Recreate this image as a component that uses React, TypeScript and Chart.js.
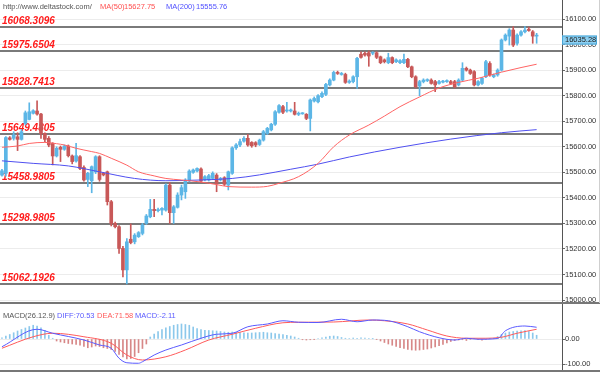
import React, { useEffect, useRef } from 'react';
import { Chart, registerables } from 'chart.js';
Chart.register(...registerables);

// ---------- data ----------
const openP = [
  15489, 15496, 15635, 15633, 15639, 15629, 15691, 15707, 15731, 15740,
  15728, 15652, 15633, 15613, 15564, 15598, 15590, 15603, 15564, 15544,
  15561, 15519, 15472, 15467, 15502, 15561, 15496, 15502, 15385, 15300,
  15287, 15202, 15118, 15238, 15228, 15248, 15261, 15300, 15326, 15355,
  15350, 15352, 15352, 15450, 15342, 15363, 15411, 15424, 15466, 15500,
  15505, 15513, 15470, 15470, 15476, 15489, 15470, 15479, 15450, 15496,
  15596, 15607, 15622, 15633, 15617, 15616, 15609, 15626, 15652, 15666,
  15688, 15735, 15757, 15740, 15740, 15740, 15727, 15729, 15727, 15711,
  15779, 15776, 15796, 15805, 15842, 15861, 15891, 15883, 15883, 15852,
  15855, 15874, 15962, 15966, 15968, 15966, 15968, 15952, 15940, 15929,
  15949, 15933, 15929, 15929, 15942, 15913, 15874, 15838, 15855, 15859,
  15861, 15855, 15848, 15853, 15855, 15855, 15855, 15842, 15861, 15907,
  15900, 15894, 15842, 15848, 15874, 15926, 15874, 15881, 15900, 16018,
  16033, 16057, 16005, 16037, 16050, 16060, 16050, 16033,
];
const closeP = [
  15506, 15636, 15629, 15646, 15629, 15659, 15733, 15737, 15741, 15728,
  15652, 15629, 15607, 15564, 15594, 15590, 15603, 15565, 15542, 15565,
  15515, 15470, 15496, 15522, 15561, 15472, 15490, 15385, 15300, 15287,
  15202, 15118, 15228, 15225, 15254, 15264, 15294, 15329, 15355, 15350,
  15354, 15359, 15450, 15342, 15365, 15411, 15440, 15470, 15505, 15509,
  15515, 15466, 15483, 15487, 15496, 15457, 15476, 15453, 15502, 15596,
  15607, 15620, 15633, 15607, 15604, 15607, 15626, 15659, 15672, 15688,
  15737, 15761, 15735, 15744, 15744, 15727, 15731, 15731, 15711, 15783,
  15789, 15800, 15809, 15844, 15861, 15891, 15887, 15887, 15852, 15857,
  15874, 15946, 15950, 15959, 15955, 15968, 15950, 15929, 15933, 15949,
  15929, 15940, 15937, 15942, 15913, 15874, 15835, 15855, 15861, 15862,
  15848, 15842, 15855, 15857, 15858, 15848, 15835, 15861, 15907, 15900,
  15887, 15842, 15855, 15868, 15933, 15881, 15881, 15900, 16018, 16037,
  16057, 15998, 16037, 16050, 16057, 16055, 16033, 16035.28,
];
const highP = [
  15512, 15640, 15640, 15659, 15655, 15668, 15740, 15772, 15745, 15780,
  15731, 15655, 15640, 15616, 15600, 15603, 15607, 15607, 15568, 15613,
  15565, 15525, 15500, 15525, 15565, 15565, 15500, 15505, 15390, 15305,
  15292, 15210, 15241, 15298, 15260, 15268, 15300, 15335, 15394, 15394,
  15360, 15362, 15455, 15460, 15370, 15420, 15450, 15475, 15510, 15513,
  15518, 15518, 15487, 15492, 15502, 15495, 15480, 15483, 15505, 15600,
  15612, 15630, 15640, 15648, 15620, 15620, 15630, 15664, 15676, 15692,
  15742, 15765, 15762, 15774, 15748, 15774, 15736, 15734, 15730, 15787,
  15795, 15804, 15815, 15848, 15866, 15896, 15896, 15891, 15888, 15862,
  15878, 15950, 15972, 15972, 15975, 15972, 15972, 15955, 15944, 15966,
  15952, 15944, 15941, 15963, 15946, 15916, 15878, 15860, 15866, 15866,
  15866, 15860, 15860, 15860, 15862, 15860, 15860, 15866, 15929, 15912,
  15904, 15898, 15859, 15872, 15938, 15933, 15885, 15905, 16022, 16042,
  16062, 16070, 16042, 16055, 16070, 16068, 16055, 16044,
];
const lowP = [
  15485, 15485, 15626, 15626, 15585, 15626, 15685, 15705, 15728, 15724,
  15633, 15620, 15600, 15529, 15560, 15542, 15586, 15560, 15533, 15540,
  15510, 15465, 15444, 15420, 15495, 15465, 15486, 15372, 15290, 15282,
  15183, 15091, 15063, 15220, 15220, 15245, 15255, 15296, 15322, 15326,
  15345, 15333, 15348, 15300, 15300, 15360, 15392, 15398, 15462, 15496,
  15502, 15460, 15466, 15466, 15472, 15424, 15466, 15448, 15431, 15492,
  15590, 15600, 15618, 15602, 15598, 15600, 15605, 15622, 15648, 15662,
  15684, 15731, 15730, 15735, 15736, 15724, 15722, 15727, 15706, 15662,
  15775, 15772, 15792, 15800, 15838, 15858, 15883, 15880, 15848, 15848,
  15850, 15828, 15947, 15955, 15915, 15960, 15945, 15925, 15928, 15925,
  15925, 15929, 15925, 15925, 15910, 15870, 15830, 15799, 15850, 15855,
  15845, 15816, 15845, 15850, 15852, 15844, 15830, 15838, 15857, 15896,
  15883, 15838, 15838, 15844, 15870, 15876, 15870, 15876, 15896, 16014,
  15998, 15992, 15998, 16033, 16046, 16052, 16005, 16005,
];

const ma50Idx = [0, 4, 7, 11, 14, 16, 19, 23, 25, 28, 32, 35, 39, 42, 46, 51, 55, 58, 64, 68, 71, 76, 81, 85, 89, 94, 98, 102, 107, 112, 117, 122, 128, 133, 137];
const ma50Val = [15598, 15603, 15613, 15617, 15612, 15607, 15594, 15581, 15574, 15555, 15528, 15502, 15486, 15476, 15470, 15462, 15452, 15444, 15442, 15445, 15457, 15483, 15535, 15600, 15646, 15685, 15720, 15757, 15795, 15830, 15852, 15868, 15892, 15910, 15923];
const ma200Idx = [0, 8, 17, 25, 34, 42, 51, 59, 66, 74, 81, 89, 102, 115, 128, 137];
const ma200Val = [15545, 15535, 15525, 15502, 15476, 15467, 15470, 15476, 15490, 15512, 15532, 15560, 15598, 15630, 15655, 15667];

const levelValues = [16068.3096, 15975.6504, 15828.7413, 15649.4805, 15458.9805, 15298.9805, 15062.1926];
const levelLabels = ['16068.3096', '15975.6504', '15828.7413', '15649.4805', '15458.9805', '15298.9805', '15062.1926'];
const priceTicks = [15000, 15100, 15200, 15300, 15400, 15500, 15600, 15700, 15800, 15900, 16000, 16100];
const lastPrice = 16035.28;

const macdHist = [
  5, 12, 18, 25, 32, 38, 44, 50, 55, 52,
  45, 35, 15, 3, -8, -12, -15, -18, -20, -22,
  -25, -30, -35, -32, -28, -30, -35, -38, -42, -50,
  -62, -72, -80, -78, -70, -55, -38, -20, 8, 20,
  30, 38, 45, 50, 55, 58, 60, 58, 55, 48,
  42, 38, 35, 34, 33, 32, 30, 28, 27, 28,
  27, 26, 25, 24, 24, 25, 26, 27, 25, 24,
  22, 20, 18, 15, 12, 8, 3, -3, -4, -3,
  -1, 2, 5, 8, 11, 12, 10, 6, 3, 2,
  4, 3, 5, 4, 2, 1, -1, -8, -14, -20,
  -25, -30, -35, -38, -42, -44, -45, -44, -42, -40,
  -36, -32, -27, -22, -16, -10, -6, -4, -3, -6,
  -2, 2, -3, -5, -2, 1, 4, 10, 18, 24,
  28, 30, 32, 33, 34, 30, 24, 15,
];
const diffIdx = [0, 9, 13, 21, 25, 28, 30, 32, 35, 36, 39, 42, 46, 51, 55, 59, 63, 68, 72, 76, 81, 87, 91, 95, 99, 104, 107, 112, 116, 119, 122, 127, 129, 134, 137];
const diffVal = [-31, 39, 23, -4, -24, -37, -77, -95, -97, -91, -64, -44, -24, 3, 19, 23, 49, 60, 73, 67, 66, 79, 69, 76, 73, 49, 29, 5, -4, 3, -1, 2, 33, 52, 47];
const deaIdx = [0, 8, 13, 21, 28, 32, 36, 42, 47, 53, 59, 65, 72, 76, 85, 94, 98, 104, 109, 114, 119, 124, 128, 132, 137];
const deaVal = [-37, 9, 23, 9, -17, -64, -84, -71, -44, -4, 19, 43, 65, 67, 68, 76, 73, 60, 36, 12, 3, 3, 7, 23, 39];
const macdTicks = [0, -100];

// ---------- layout constants ----------
const SLOTS = 144;
const FONT = '"Liberation Sans", Arial, sans-serif';
const UP = 'rgb(92,182,230)';
const DOWN = 'rgb(200,88,88)';

const xScale = { type: 'linear', min: -0.5, max: SLOTS - 0.5, display: false, offset: false };

const fitRightAxis = (s: any) => {
  s.width = 38;
  s.paddingTop = 0;
  s.paddingBottom = 0;
};

export default function App() {
  const mainRef = useRef<HTMLCanvasElement>(null);
  const macdRef = useRef<HTMLCanvasElement>(null);

  useEffect(() => {
    const up = openP.map((o, i) => closeP[i] >= o);
    const colors = up.map((u) => (u ? UP : DOWN));

    const mainDecor = {
      id: 'mainDecor',
      beforeDatasetsDraw(chart: any) {
        const { ctx, chartArea, scales } = chart;
        ctx.save();
        levelValues.forEach((lv, k) => {
          const py = Math.round(scales.y.getPixelForValue(lv));
          ctx.strokeStyle = '#7a7a7a';
          ctx.lineWidth = 2;
          ctx.beginPath();
          ctx.moveTo(chartArea.left, py);
          ctx.lineTo(chartArea.right, py);
          ctx.stroke();
          ctx.font = `italic bold 10px ${FONT}`;
          ctx.fillStyle = '#ff1a1a';
          ctx.textBaseline = 'alphabetic';
          ctx.textAlign = 'left';
          ctx.fillText(levelLabels[k], 2, py - 3);
        });
        ctx.restore();
      },
      afterDraw(chart: any) {
        const { ctx, scales, chartArea } = chart;
        ctx.save();
        ctx.font = `7.5px ${FONT}`;
        ctx.textBaseline = 'alphabetic';
        ctx.fillStyle = '#555';
        ctx.fillText('http://www.deltastock.com/', 3, 9);
        ctx.fillStyle = '#ff5050';
        ctx.fillText('MA(50)', 100, 9);
        ctx.fillText('15627.75', 124, 9);
        ctx.fillStyle = '#5050ff';
        ctx.fillText('MA(200)', 166, 9);
        ctx.fillText('15555.76', 196, 9);
        ctx.strokeStyle = '#777';
        ctx.lineWidth = 2;
        ctx.beginPath();
        ctx.moveTo(0, chartArea.bottom);
        ctx.lineTo(600, chartArea.bottom);
        ctx.stroke();
        const py = scales.y.getPixelForValue(lastPrice);
        ctx.fillStyle = '#8dd0f2';
        ctx.fillRect(chartArea.right, py, 35, 9);
        ctx.strokeStyle = '#4aa6d6';
        ctx.lineWidth = 1;
        ctx.strokeRect(chartArea.right + 0.5, py + 0.5, 34, 8);
        ctx.fillStyle = '#1a1a1a';
        ctx.font = `7.5px ${FONT}`;
        ctx.textBaseline = 'middle';
        ctx.fillText(lastPrice.toFixed(2), chartArea.right + 3, py + 4.8);
        ctx.strokeStyle = '#cfcfcf';
        ctx.beginPath();
        ctx.moveTo(599.5, 0);
        ctx.lineTo(599.5, chartArea.bottom);
        ctx.stroke();
        ctx.restore();
      },
    };

    const main = new Chart(mainRef.current as HTMLCanvasElement, {
      type: 'bar',
      data: {
        datasets: [
          {
            type: 'line',
            data: ma50Idx.map((x, k) => ({ x, y: ma50Val[k] })),
            borderColor: 'rgb(255,100,100)',
            borderWidth: 1,
            pointRadius: 0,
            cubicInterpolationMode: 'monotone',
            order: 0,
          },
          {
            type: 'line',
            data: ma200Idx.map((x, k) => ({ x, y: ma200Val[k] })),
            borderColor: 'rgb(80,80,240)',
            borderWidth: 1,
            pointRadius: 0,
            cubicInterpolationMode: 'monotone',
            order: 0,
          },
          {
            type: 'bar',
            data: lowP.map((l, i) => ({ x: i, y: [l, highP[i]] })),
            backgroundColor: colors,
            barThickness: 1,
            grouped: false,
            order: 2,
          },
          {
            type: 'bar',
            data: openP.map((o, i) => ({ x: i, y: [o, closeP[i]] })),
            backgroundColor: colors,
            barThickness: 3,
            minBarLength: 1,
            grouped: false,
            order: 1,
          },
        ],
      } as any,
      options: {
        responsive: false,
        animation: false,
        layout: { padding: { top: 0, bottom: 1, left: 0, right: 0 } },
        plugins: { legend: { display: false }, tooltip: { enabled: false } },
        scales: {
          x: xScale as any,
          y: {
            position: 'right',
            min: 14988.5,
            max: 16174.4,
            afterFit: fitRightAxis,
            afterBuildTicks: (s: any) => {
              s.ticks = priceTicks.map((value) => ({ value }));
            },
            ticks: {
              callback: (v: any) => Number(v).toFixed(2),
              font: { size: 7.5, family: FONT },
              color: '#333',
              padding: 0,
            },
            grid: { color: '#ececec', tickLength: 3, tickColor: '#666' },
            border: { color: '#555', width: 1 },
          },
        },
      } as any,
      plugins: [mainDecor],
    });

    const macdDecor = {
      id: 'macdDecor',
      afterDraw(chart: any) {
        const { ctx, chartArea } = chart;
        ctx.save();
        ctx.font = `7.5px ${FONT}`;
        ctx.textBaseline = 'alphabetic';
        ctx.fillStyle = '#555';
        ctx.fillText('MACD(26.12.9)', 3, 14);
        ctx.fillStyle = '#5a5aff';
        ctx.fillText('DIFF:70.53', 57, 14);
        ctx.fillStyle = '#ff5a5a';
        ctx.fillText('DEA:71.58', 97, 14);
        ctx.fillStyle = '#5a5aff';
        ctx.fillText('MACD:-2.11', 135, 14);
        ctx.strokeStyle = '#777';
        ctx.lineWidth = 2;
        ctx.beginPath();
        ctx.moveTo(0, chartArea.bottom);
        ctx.lineTo(600, chartArea.bottom);
        ctx.stroke();
        ctx.restore();
      },
    };

    const macd = new Chart(macdRef.current as HTMLCanvasElement, {
      type: 'bar',
      data: {
        datasets: [
          {
            type: 'line',
            data: diffIdx.map((x, k) => ({ x, y: diffVal[k] })),
            borderColor: 'rgb(90,90,255)',
            borderWidth: 1,
            pointRadius: 0,
            cubicInterpolationMode: 'monotone',
            order: 0,
          },
          {
            type: 'line',
            data: deaIdx.map((x, k) => ({ x, y: deaVal[k] })),
            borderColor: 'rgb(255,90,90)',
            borderWidth: 1,
            pointRadius: 0,
            cubicInterpolationMode: 'monotone',
            order: 0,
          },
          {
            type: 'bar',
            data: macdHist.map((v, i) => ({ x: i, y: v })),
            backgroundColor: macdHist.map((v) => (v >= 0 ? 'rgb(140,200,235)' : 'rgb(215,135,135)')),
            barThickness: 1,
            grouped: false,
            order: 1,
          },
        ],
      } as any,
      options: {
        responsive: false,
        animation: false,
        layout: { padding: { top: 0, bottom: 2, left: 0, right: 0 } },
        plugins: { legend: { display: false }, tooltip: { enabled: false } },
        scales: {
          x: xScale as any,
          y: {
            position: 'right',
            min: -128,
            max: 140,
            afterFit: fitRightAxis,
            afterBuildTicks: (s: any) => {
              s.ticks = macdTicks.map((value) => ({ value }));
            },
            ticks: {
              callback: (v: any) => Number(v).toFixed(2),
              font: { size: 7.5, family: FONT },
              color: '#333',
              padding: 0,
            },
            grid: { color: '#ececec', tickLength: 3, tickColor: '#666' },
            border: { color: '#555', width: 1 },
          },
        },
      } as any,
      plugins: [macdDecor],
    });

    return () => {
      main.destroy();
      macd.destroy();
    };
  }, []);

  return (
    <div style={{ position: 'fixed', left: 0, top: 0, width: 600, height: 373, background: '#fff' }}>
      <canvas ref={mainRef} width={600} height={304} style={{ position: 'absolute', left: 0, top: 0 }} />
      <canvas ref={macdRef} width={600} height={69} style={{ position: 'absolute', left: 0, top: 304 }} />
    </div>
  );
}
